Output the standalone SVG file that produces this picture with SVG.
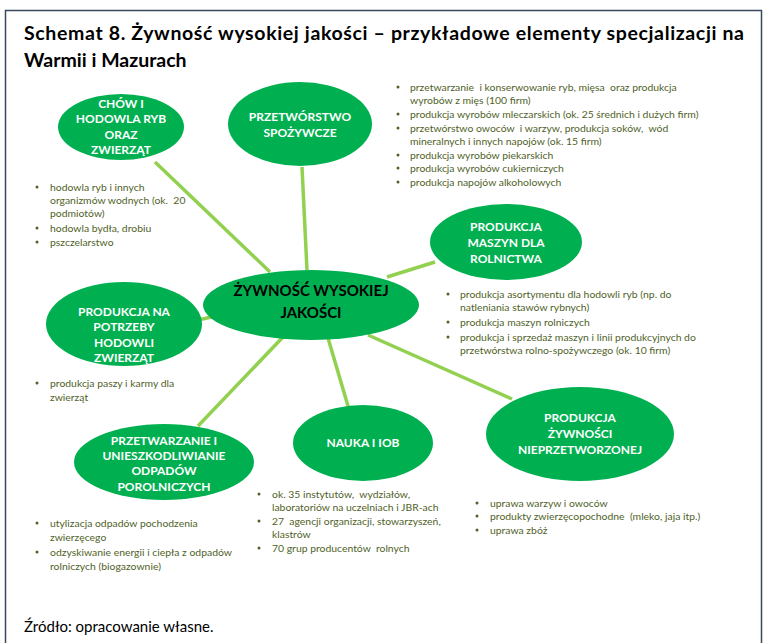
<svg xmlns="http://www.w3.org/2000/svg" width="766" height="643" viewBox="0 0 766 643">
<style>
.title{font-family:Lato,"Liberation Sans",sans-serif;font-weight:bold;font-size:19.5px;fill:#000}
.el{fill:#00b050}
.lbl{font-family:Lato,"Liberation Sans",sans-serif;font-weight:bold;font-size:12px;fill:#fff;text-anchor:middle}
.main{font-family:Lato,"Liberation Sans",sans-serif;font-weight:bold;font-size:15px;fill:#000;text-anchor:middle}
.bl{font-family:Lato,"Liberation Sans",sans-serif;font-size:10.4px;fill:#4f6228;white-space:pre}
.dot{fill:#4f6228}
.con line{stroke:#92d050;stroke-width:3.5}
.src{font-family:Lato,"Liberation Sans",sans-serif;font-size:15px;fill:#000}
</style>
<rect x="0" y="0" width="766" height="643" fill="#fff"/>
<path d="M5.5 643 V10.5 H761.5 V643" fill="none" stroke="#3b4a5a" stroke-width="1.5"/>
<text class="title" x="24" y="40" textLength="720" lengthAdjust="spacing">Schemat 8. Żywność wysokiej jakości – przykładowe elementy specjalizacji na</text>
<text class="title" x="24" y="67">Warmii i Mazurach</text>

<g id="connectors" class="con">
<line x1="155" y1="162" x2="270" y2="272"/>
<line x1="302" y1="167" x2="307" y2="270"/>
<line x1="387" y1="277" x2="435" y2="262"/>
<line x1="198" y1="320" x2="216" y2="316"/>
<line x1="283" y1="337" x2="198" y2="426"/>
<line x1="328" y1="338" x2="348" y2="406"/>
<line x1="368" y1="335" x2="512" y2="399"/>
</g>

<g id="n-center">
<ellipse class="el" cx="311" cy="305" rx="108" ry="35"/>
<text class="main" x="311" y="296">ŻYWNOŚĆ WYSOKIEJ</text>
<text class="main" x="311" y="318">JAKOŚCI</text>
</g>

<g id="n-chow">
<ellipse class="el" cx="121" cy="127" rx="63" ry="33"/>
<text class="lbl" x="121" y="108">CHÓW I</text>
<text class="lbl" x="121" y="123">HODOWLA  RYB</text>
<text class="lbl" x="121" y="139">ORAZ</text>
<text class="lbl" x="121" y="154">ZWIERZĄT</text>
</g>

<g id="n-przetworstwo">
<ellipse class="el" cx="300" cy="124" rx="72" ry="42"/>
<text class="lbl" x="300" y="121">PRZETWÓRSTWO</text>
<text class="lbl" x="300" y="137">SPOŻYWCZE</text>
</g>

<g id="n-maszyn">
<ellipse class="el" cx="506" cy="242" rx="76" ry="38"/>
<text class="lbl" x="506" y="231">PRODUKCJA</text>
<text class="lbl" x="506" y="247">MASZYN DLA</text>
<text class="lbl" x="506" y="263">ROLNICTWA</text>
</g>

<g id="n-potrzeby">
<ellipse class="el" cx="124" cy="324" rx="78" ry="42"/>
<text class="lbl" x="124" y="316">PRODUKCJA NA</text>
<text class="lbl" x="124" y="331">POTRZEBY</text>
<text class="lbl" x="124" y="347">HODOWLI</text>
<text class="lbl" x="124" y="362">ZWIERZĄT</text>
</g>

<g id="n-odpady">
<ellipse class="el" cx="164" cy="462" rx="90" ry="38"/>
<text class="lbl" x="164" y="445">PRZETWARZANIE I</text>
<text class="lbl" x="164" y="460">UNIESZKODLIWIANIE</text>
<text class="lbl" x="164" y="475">ODPADÓW</text>
<text class="lbl" x="164" y="491">POROLNICZYCH</text>
</g>

<g id="n-nauka">
<ellipse class="el" cx="363" cy="443" rx="70" ry="38"/>
<text class="lbl" x="363" y="447">NAUKA I IOB</text>
</g>

<g id="n-nieprzetworzonej">
<ellipse class="el" cx="580" cy="434" rx="94" ry="47"/>
<text class="lbl" x="580" y="422">PRODUKCJA</text>
<text class="lbl" x="580" y="438">ŻYWNOŚCI</text>
<text class="lbl" x="580" y="454">NIEPRZETWORZONEJ</text>
</g>

<g id="list-chow">
<circle class="dot" cx="37" cy="187" r="1.5"/>
<circle class="dot" cx="37" cy="228" r="1.5"/>
<circle class="dot" cx="37" cy="242" r="1.5"/>
<text class="bl" x="50" y="190.5">hodowla ryb i innych</text>
<text class="bl" x="50" y="203.5">organizmów wodnych (ok.  20</text>
<text class="bl" x="50" y="216.5">podmiotów)</text>
<text class="bl" x="50" y="231.5">hodowla bydła, drobiu</text>
<text class="bl" x="50" y="245.5">pszczelarstwo</text>
</g>

<g id="list-przetworstwo">
<circle class="dot" cx="398" cy="87" r="1.5"/>
<circle class="dot" cx="398" cy="114" r="1.5"/>
<circle class="dot" cx="398" cy="128" r="1.5"/>
<circle class="dot" cx="398" cy="155" r="1.5"/>
<circle class="dot" cx="398" cy="168" r="1.5"/>
<circle class="dot" cx="398" cy="182" r="1.5"/>
<text class="bl" x="410" y="90.5">przetwarzanie  i konserwowanie ryb, mięsa  oraz produkcja</text>
<text class="bl" x="410" y="103.5">wyrobów z mięs (100 firm)</text>
<text class="bl" x="410" y="117.5">produkcja wyrobów mleczarskich (ok. 25 średnich i dużych firm)</text>
<text class="bl" x="410" y="131.5">przetwórstwo owoców  i warzyw, produkcja soków,  wód</text>
<text class="bl" x="410" y="144.5">mineralnych i innych napojów (ok. 15 firm)</text>
<text class="bl" x="410" y="158.5">produkcja wyrobów piekarskich</text>
<text class="bl" x="410" y="171.5">produkcja wyrobów cukierniczych</text>
<text class="bl" x="410" y="185.5">produkcja napojów alkoholowych</text>
</g>

<g id="list-maszyn">
<circle class="dot" cx="448" cy="294" r="1.5"/>
<circle class="dot" cx="448" cy="322" r="1.5"/>
<circle class="dot" cx="448" cy="337" r="1.5"/>
<text class="bl" x="460" y="297.5">produkcja asortymentu dla hodowli ryb (np. do</text>
<text class="bl" x="460" y="310.5">natleniania stawów rybnych)</text>
<text class="bl" x="460" y="325.5">produkcja maszyn rolniczych</text>
<text class="bl" x="460" y="340.5">produkcja i sprzedaż maszyn i linii produkcyjnych do</text>
<text class="bl" x="460" y="353.5">przetwórstwa rolno-spożywczego (ok. 10 firm)</text>
</g>

<g id="list-potrzeby">
<circle class="dot" cx="37" cy="383" r="1.5"/>
<text class="bl" x="50" y="386.5">produkcja paszy i karmy dla</text>
<text class="bl" x="50" y="400.5">zwierząt</text>
</g>

<g id="list-odpady">
<circle class="dot" cx="37" cy="523" r="1.5"/>
<circle class="dot" cx="37" cy="552" r="1.5"/>
<text class="bl" x="50" y="526.5">utylizacja odpadów pochodzenia</text>
<text class="bl" x="50" y="540.5">zwierzęcego</text>
<text class="bl" x="50" y="555.5">odzyskiwanie energii i ciepła z odpadów</text>
<text class="bl" x="50" y="569.5">rolniczych (biogazownie)</text>
</g>

<g id="list-nauka">
<circle class="dot" cx="259" cy="494" r="1.5"/>
<circle class="dot" cx="259" cy="521" r="1.5"/>
<circle class="dot" cx="259" cy="548" r="1.5"/>
<text class="bl" x="272" y="497.5">ok. 35 instytutów,  wydziałów,</text>
<text class="bl" x="272" y="510.5">laboratoriów na uczelniach i JBR-ach</text>
<text class="bl" x="272" y="524.5">27  agencji organizacji, stowarzyszeń,</text>
<text class="bl" x="272" y="537.5">klastrów</text>
<text class="bl" x="272" y="551.5">70 grup producentów  rolnych</text>
</g>

<g id="list-nieprzetworzonej">
<circle class="dot" cx="477" cy="503" r="1.5"/>
<circle class="dot" cx="477" cy="516" r="1.5"/>
<circle class="dot" cx="477" cy="530" r="1.5"/>
<text class="bl" x="490" y="506.5">uprawa warzyw i owoców</text>
<text class="bl" x="490" y="519.5">produkty zwierzęcopochodne  (mleko, jaja itp.)</text>
<text class="bl" x="490" y="533.5">uprawa zbóż</text>
</g>

<text class="src" x="24" y="632">Źródło: opracowanie własne.</text>
</svg>
